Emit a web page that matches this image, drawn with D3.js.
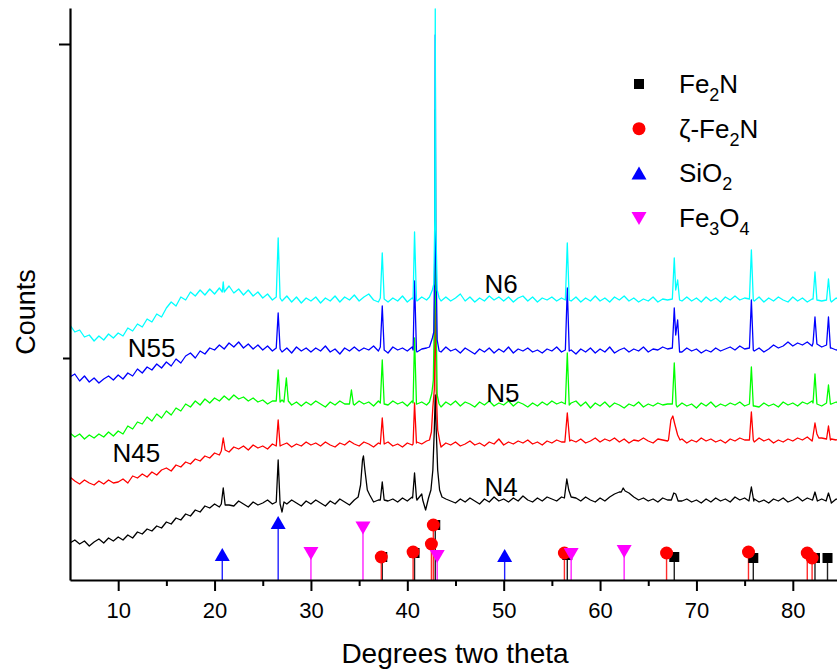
<!DOCTYPE html>
<html>
<head>
<meta charset="utf-8">
<script src="https://cdn.jsdelivr.net/npm/d3@7"></script>
<style>
  html, body { margin: 0; padding: 0; background: #fff; }
  svg { display: block; }
  text { font-family: "Liberation Sans", Arial, Helvetica, sans-serif; fill: #000; }
</style>
</head>
<body>
<svg id="chart" width="837" height="670"></svg>
<script>
// ---------------- DATA ----------------
// x: degrees two theta; y: counts (arbitrary, stacked traces as displayed)
const xDomain = [5, 85];
const yDomain = [0, 5720];
const xMajorTicks = [10, 20, 30, 40, 50, 60, 70, 80];
const xMinorTicks = [15, 25, 35, 45, 55, 65, 75, 85];
const yMajorTicks = [5360];
const yMinorTicks = [2220];

// baseline grid samples: start 5 deg, step 0.5 deg (161 samples each)
const gridStart = 5, gridStep = 0.5;

const n6Grid = [
  2550,2480,2500,2430,2450,2390,2440,2400,2460,2420,
  2470,2440,2520,2490,2560,2530,2610,2580,2660,2630,
  2720,2780,2740,2830,2800,2880,2840,2900,2850,2910,
  2860,2920,2880,2940,2870,2910,2850,2900,2840,2880,
  2820,2860,2800,2840,2790,2840,2780,2830,2770,2820,
  2790,2830,2770,2820,2790,2840,2780,2830,2800,2850,
  2790,2830,2860,2800,2780,2830,2780,2820,2790,2840,
  2780,2820,2790,2830,2800,2840,2800,2790,2830,2790,
  2820,2860,2790,2830,2780,2820,2790,2840,2800,2830,
  2790,2830,2780,2820,2840,2790,2830,2780,2820,2800,
  2830,2790,2820,2800,2790,2830,2780,2820,2790,2840,
  2790,2820,2780,2830,2800,2840,2790,2820,2780,2810,
  2790,2830,2780,2810,2800,2820,2800,2790,2830,2790,
  2820,2780,2830,2790,2820,2780,2830,2800,2840,2800,
  2820,2810,2790,2830,2780,2820,2790,2830,2800,2780,
  2830,2790,2820,2780,2810,2800,2790,2810,2780,2820,
  2790
];
const n55Grid = [
  2030,2060,1990,2040,1980,2020,1970,2010,2040,2000,
  2050,2010,2070,2040,2110,2070,2130,2100,2160,2120,
  2180,2140,2210,2170,2240,2270,2220,2290,2260,2320,
  2300,2350,2310,2370,2330,2380,2320,2360,2310,2350,
  2300,2340,2290,2330,2280,2320,2270,2330,2290,2320,
  2280,2320,2290,2340,2280,2310,2260,2320,2290,2330,
  2290,2320,2300,2340,2290,2320,2270,2330,2300,2320,
  2290,2330,2280,2310,2320,2300,2310,2280,2330,2290,
  2310,2270,2320,2290,2260,2310,2280,2320,2270,2310,
  2280,2330,2270,2310,2290,2320,2280,2300,2270,2310,
  2290,2330,2280,2310,2300,2260,2310,2280,2320,2270,
  2310,2280,2330,2270,2300,2320,2280,2310,2290,2330,
  2280,2310,2300,2330,2310,2300,2290,2280,2320,2290,
  2310,2270,2300,2280,2320,2290,2310,2330,2300,2340,
  2310,2330,2290,2320,2280,2310,2350,2320,2340,2380,
  2340,2370,2350,2380,2340,2370,2330,2360,2320,2300,
  2310
];
const n5Grid = [
  1470,1430,1460,1410,1450,1420,1460,1430,1480,1440,
  1490,1460,1540,1510,1580,1560,1630,1590,1660,1620,
  1690,1650,1720,1690,1760,1730,1790,1750,1810,1770,
  1820,1790,1840,1800,1850,1810,1830,1790,1820,1780,
  1800,1760,1790,1780,1760,1790,1750,1780,1740,1780,
  1750,1790,1760,1730,1780,1750,1790,1760,1780,1750,
  1790,1760,1780,1740,1790,1770,1750,1790,1760,1780,
  1740,1790,1760,1780,1750,1800,1770,1730,1780,1750,
  1790,1740,1780,1760,1730,1780,1750,1790,1740,1770,
  1750,1790,1740,1780,1760,1730,1770,1740,1780,1750,
  1790,1760,1780,1740,1770,1790,1740,1780,1720,1770,
  1740,1780,1730,1770,1750,1720,1760,1740,1780,1730,
  1760,1740,1770,1750,1760,1740,1730,1770,1740,1760,
  1720,1770,1740,1780,1730,1760,1740,1770,1750,1780,
  1740,1770,1740,1730,1770,1740,1760,1730,1780,1750,
  1770,1740,1780,1760,1790,1760,1740,1770,1760,1780,
  1750
];
const n45Grid = [
  1030,990,960,1000,970,950,990,960,1000,970,
  980,1010,970,1040,1020,1060,1030,1080,1050,1100,
  1120,1090,1150,1130,1180,1160,1210,1190,1240,1220,
  1270,1250,1300,1280,1330,1310,1340,1300,1350,1320,
  1340,1310,1360,1330,1350,1370,1330,1360,1340,1380,
  1350,1370,1340,1380,1350,1330,1370,1350,1390,1360,
  1340,1380,1360,1330,1370,1350,1380,1340,1360,1330,
  1370,1350,1380,1360,1390,1370,1350,1330,1370,1350,
  1380,1340,1360,1390,1350,1370,1340,1380,1360,1410,
  1350,1380,1360,1390,1370,1400,1360,1380,1350,1390,
  1370,1400,1380,1360,1400,1380,1410,1370,1390,1420,
  1380,1410,1390,1420,1380,1410,1370,1400,1390,1420,
  1390,1370,1410,1400,1390,1420,1380,1410,1370,1400,
  1380,1420,1390,1410,1380,1400,1370,1410,1390,1420,
  1400,1390,1380,1420,1390,1410,1370,1400,1380,1410,
  1390,1420,1400,1430,1390,1410,1420,1390,1410,1400,
  1420
];
const n4Grid = [
  370,400,360,390,340,380,410,370,420,390,
  430,400,450,420,480,460,510,490,540,520,
  580,560,620,600,660,640,700,680,740,720,
  760,730,780,750,740,790,760,730,780,750,
  770,800,760,750,790,760,800,770,740,790,
  760,800,770,740,790,760,810,780,750,800,
  820,860,810,780,800,830,790,810,780,820,
  790,830,800,860,870,900,820,780,810,790,
  770,810,780,820,790,760,810,780,830,790,
  810,780,820,790,840,800,780,820,790,830,
  810,790,830,800,780,820,790,830,800,780,
  820,790,830,860,880,900,870,830,800,820,
  790,810,780,820,800,790,830,790,810,780,
  800,770,810,780,820,790,810,780,830,800,
  820,790,810,780,800,770,810,790,820,780,
  800,830,790,820,800,780,810,790,770,810,
  790
];

// diffraction peaks: groups of [theta, counts] points
const n6Peaks = [
  [[20.8,2880],[20.9,2980],[21.0,2880]],
  [[26.4,2830],[26.6,3420],[26.8,2820]],
  [[37.2,2820],[37.4,3270],[37.6,2810]],
  [[40.6,2810],[40.75,3480],[40.95,2800]],
  [[42.3,2830],[42.6,2900],[42.75,2960],[42.85,3600],[42.9,5710],[42.95,3600],[43.1,2900],[43.3,2820]],
  [[56.4,2800],[56.6,3370],[56.8,2800]],
  [[67.5,2810],[67.7,3220],[67.85,2900],[68.05,3000],[68.25,2800]],
  [[75.5,2810],[75.7,3300],[75.9,2800]],
  [[82.1,2810],[82.3,3080],[82.5,2800]],
  [[83.5,2800],[83.7,3010],[83.9,2800]]
];
const n55Peaks = [
  [[26.4,2320],[26.6,2670],[26.8,2310]],
  [[37.2,2330],[37.4,2740],[37.6,2300]],
  [[40.6,2300],[40.75,2990],[40.95,2290]],
  [[42.3,2330],[42.6,2420],[42.75,2480],[42.85,3300],[42.9,5450],[42.95,3400],[43.1,2400],[43.3,2290]],
  [[56.4,2300],[56.6,2920],[56.8,2290]],
  [[67.5,2320],[67.7,2720],[67.85,2450],[68.05,2600],[68.25,2280]],
  [[75.5,2320],[75.7,2800],[75.9,2300]],
  [[82.1,2370],[82.3,2630],[82.5,2360]],
  [[83.5,2350],[83.7,2630],[83.9,2320]]
];
const n5Peaks = [
  [[26.4,1790],[26.6,2100],[26.8,1780],[27.0,1800],[27.2,1780],[27.45,2020],[27.65,1790]],
  [[34.0,1760],[34.2,1900],[34.4,1760]],
  [[37.2,1770],[37.4,2200],[37.6,1760]],
  [[40.6,1770],[40.75,2420],[40.95,1760]],
  [[42.3,1780],[42.55,1870],[42.7,2000],[42.85,2900],[42.9,4700],[42.95,2900],[43.1,1850],[43.3,1760]],
  [[56.4,1760],[56.6,2270],[56.8,1750]],
  [[67.5,1760],[67.7,2170],[67.9,1750]],
  [[75.5,1760],[75.7,2130],[75.9,1740]],
  [[82.1,1770],[82.3,2060],[82.5,1760]],
  [[83.5,1770],[83.7,1950],[83.9,1760]]
];
const n45Peaks = [
  [[20.7,1290],[20.9,1420],[21.1,1300]],
  [[26.4,1340],[26.6,1600],[26.8,1340]],
  [[37.2,1360],[37.4,1620],[37.6,1360]],
  [[40.6,1360],[40.75,1770],[40.95,1370]],
  [[42.3,1400],[42.5,1480],[42.65,1730],[42.8,1900],[42.9,3080],[43.0,1900],[43.15,1500],[43.4,1370]],
  [[56.35,1380],[56.6,1670],[56.85,1390]],
  [[67.1,1400],[67.35,1600],[67.55,1640],[67.75,1560],[68.05,1450],[68.3,1400]],
  [[75.5,1400],[75.7,1680],[75.9,1400]],
  [[82.05,1410],[82.3,1570],[82.5,1460],[82.7,1420]],
  [[83.5,1410],[83.7,1540],[83.9,1400]]
];
const n4Peaks = [
  [[20.7,760],[20.9,920],[21.1,750]],
  [[26.4,780],[26.6,1200],[26.8,760],[27.0,680],[27.2,780]],
  [[34.9,830],[35.15,950],[35.35,1200],[35.45,1240],[35.6,1100],[35.85,900],[36.1,850]],
  [[37.2,800],[37.4,980],[37.6,800]],
  [[40.55,820],[40.75,1070],[40.95,820]],
  [[41.6,800],[41.9,700],[42.2,820],[42.45,900],[42.65,1100],[42.8,1500],[42.9,1850],[43.0,1500],[43.15,1100],[43.35,900],[43.6,830]],
  [[56.3,820],[56.55,1010],[56.75,900],[57.0,830]],
  [[62.2,880],[62.4,920],[62.6,890]],
  [[67.4,800],[67.65,870],[67.85,860],[68.1,790]],
  [[75.45,790],[75.7,930],[75.95,790]],
  [[82.05,800],[82.3,880],[82.55,790]],
  [[83.45,790],[83.7,870],[83.95,790]]
];

const seriesNames = ["N4", "N45", "N5", "N55", "N6"];
const seriesColors = ["#000000", "#ff0000", "#00ff00", "#0000ff", "#00ffff"];
const seriesGrids = [n4Grid, n45Grid, n5Grid, n55Grid, n6Grid];
const seriesPeaks = [n4Peaks, n45Peaks, n5Peaks, n55Peaks, n6Peaks];
// label anchor positions in data units [theta, counts]
const labelAt = [[48.0, 840], [9.4, 1180], [48.2, 1780], [11.0, 2230], [48.0, 2870]];

// reference patterns (stick positions and heights)
const phaseNames = ["Fe2N", "ζ-Fe2N", "SiO2", "Fe3O4"];
const fe2nSticks = [[37.4,230],[40.75,270],[42.9,550],[56.6,250],[67.7,230],[75.9,220],[82.3,220],[83.6,220]];
const zetaFe2nSticks = [[37.3,230],[40.6,280],[42.5,360],[42.7,550],[56.3,270],[66.9,270],[75.4,280],[81.5,270],[82.0,220]];
const sio2Sticks = [[20.8,250],[26.6,570],[50.1,240]];
const fe3o4Sticks = [[30.0,270],[35.4,525],[43.1,240],[57.0,260],[62.5,290]];

// ---------------- CHART ----------------
const svg = d3.select("#chart");
const plot = { left: 70, right: 841, top: 8, bottom: 580 };
const x = d3.scaleLinear().domain(xDomain).range([plot.left, plot.right]);
const y = d3.scaleLinear().domain(yDomain).range([plot.bottom, plot.top]);

svg.append("defs").append("clipPath").attr("id", "clip")
  .append("rect").attr("x", plot.left).attr("y", plot.top)
  .attr("width", plot.right - plot.left).attr("height", plot.bottom - plot.top);

function buildSeries(grid, peaks) {
  const pts = grid.map((v, i) => [gridStart + i * gridStep, v]);
  const spans = peaks.map(g => [g[0][0], g[g.length - 1][0]]);
  const kept = pts.filter(p => !spans.some(s => p[0] >= s[0] - 1e-9 && p[0] <= s[1] + 1e-9));
  return kept.concat(...peaks).sort((a, b) => a[0] - b[0]);
}

const line = d3.line().x(d => x(d[0])).y(d => y(d[1]));
const traces = svg.append("g").attr("clip-path", "url(#clip)");
seriesNames.forEach((name, i) => {
  traces.append("path")
    .datum(buildSeries(seriesGrids[i], seriesPeaks[i]))
    .attr("fill", "none")
    .attr("stroke", seriesColors[i])
    .attr("stroke-width", 1.3)
    .attr("stroke-linejoin", "round")
    .attr("d", line);
});

// trace labels
seriesNames.forEach((name, i) => {
  svg.append("text")
    .attr("x", x(labelAt[i][0])).attr("y", y(labelAt[i][1]))
    .attr("font-size", 26).text(name);
});

// stick patterns
const phases = [
  { data: fe2nSticks, color: "#000000", stick: "#222222", shape: "square" },
  { data: zetaFe2nSticks, color: "#ff0000", stick: "#ff2a2a", shape: "circle" },
  { data: sio2Sticks, color: "#0000ff", stick: "#2020ff", shape: "up" },
  { data: fe3o4Sticks, color: "#ff00ff", stick: "#ff20ff", shape: "down" }
];
function drawMarker(g, shape, cx, cy, color) {
  if (shape === "square") {
    g.append("rect").attr("x", cx - 5).attr("y", cy - 5).attr("width", 10).attr("height", 10).attr("fill", color);
  } else if (shape === "circle") {
    g.append("circle").attr("cx", cx).attr("cy", cy).attr("r", 6.5).attr("fill", color);
  } else if (shape === "up") {
    g.append("path").attr("d", `M${cx},${cy - 7}L${cx + 7.5},${cy + 6}L${cx - 7.5},${cy + 6}Z`).attr("fill", color);
  } else {
    g.append("path").attr("d", `M${cx - 7.5},${cy - 6}L${cx + 7.5},${cy - 6}L${cx},${cy + 7}Z`).attr("fill", color);
  }
}
const sticks = svg.append("g");
phases.forEach(p => {
  p.data.forEach(d => {
    sticks.append("line")
      .attr("x1", x(d[0])).attr("x2", x(d[0]))
      .attr("y1", y(0)).attr("y2", y(d[1]))
      .attr("stroke", p.stick).attr("stroke-width", 1.4);
  });
});
phases.forEach(p => {
  p.data.forEach(d => drawMarker(sticks, p.shape, x(d[0]), y(d[1]), p.color));
});

// axes
const axisColor = "#000";
const xAxis = svg.append("g").attr("transform", `translate(0,${plot.bottom})`)
  .call(d3.axisBottom(x).tickValues(xMajorTicks).tickSize(11).tickSizeOuter(0).tickPadding(11).tickFormat(d3.format("d")));
svg.append("g").attr("transform", `translate(0,${plot.bottom})`)
  .call(d3.axisBottom(x).tickValues(xMinorTicks).tickSize(6).tickSizeOuter(0).tickFormat(""))
  .select(".domain").remove();
const yAxis = svg.append("g").attr("transform", `translate(${plot.left},0)`)
  .call(d3.axisLeft(y).tickValues(yMajorTicks).tickSize(11).tickSizeOuter(0).tickFormat(""));
svg.append("g").attr("transform", `translate(${plot.left},0)`)
  .call(d3.axisLeft(y).tickValues(yMinorTicks).tickSize(7).tickSizeOuter(0).tickFormat(""))
  .select(".domain").remove();
svg.selectAll(".domain").attr("stroke", axisColor).attr("stroke-width", 2.2);
svg.selectAll(".tick line").attr("stroke", axisColor).attr("stroke-width", 2);
xAxis.selectAll(".tick text").attr("font-size", 22).attr("fill", "#000")
  .attr("font-family", "'Liberation Sans', Arial, sans-serif");

// axis titles
svg.append("text").attr("x", 455).attr("y", 663).attr("text-anchor", "middle")
  .attr("font-size", 28).text("Degrees two theta");
svg.append("text").attr("transform", "translate(35,312) rotate(-90)")
  .attr("text-anchor", "middle").attr("font-size", 27).text("Counts");

// legend
const legendParts = [
  [["Fe", false], ["2", true], ["N", false]],
  [["ζ-Fe", false], ["2", true], ["N", false]],
  [["SiO", false], ["2", true]],
  [["Fe", false], ["3", true], ["O", false], ["4", true]]
];
const legendShapes = ["square", "circle", "up", "down"];
const legend = svg.append("g");
legendParts.forEach((parts, i) => {
  const cy = 84 + i * 44.7;
  drawMarker(legend, legendShapes[i], 639, cy, phases[i].color);
  const t = legend.append("text").attr("x", 679).attr("y", cy + 9).attr("font-size", 26);
  let sub = false;
  parts.forEach(([s, isSub]) => {
    const ts = t.append("tspan").text(s);
    if (isSub && !sub) { ts.attr("dy", 8).attr("font-size", 18); sub = true; }
    else if (!isSub && sub) { ts.attr("dy", -8).attr("font-size", 26); sub = false; }
    else if (isSub) { ts.attr("font-size", 18); }
  });
});
</script>
</body>
</html>
